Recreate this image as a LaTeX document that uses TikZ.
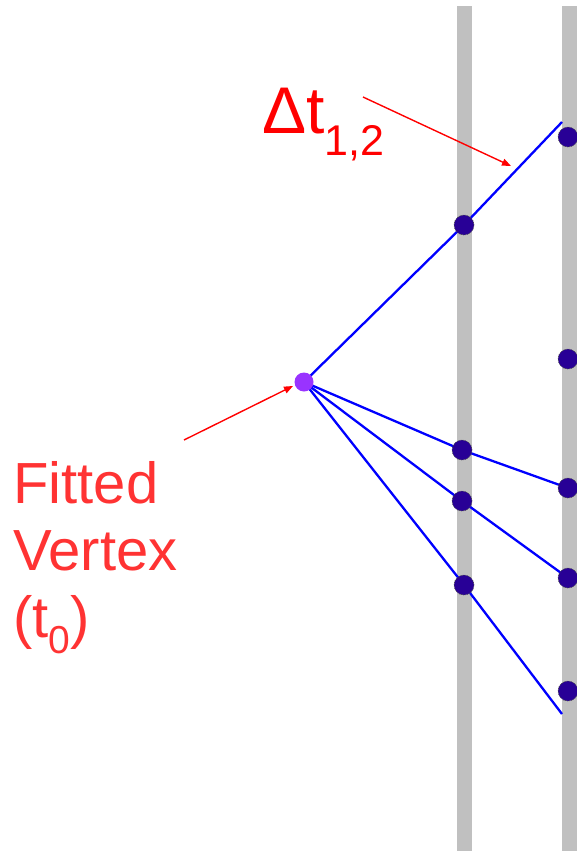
\documentclass[tikz,border=0pt]{standalone}
\usepackage{fontspec}
\setmainfont{Liberation Sans}
\usetikzlibrary{arrows.meta,backgrounds}
\definecolor{bargray}{RGB}{192,192,192}
\definecolor{hitblue}{RGB}{40,0,150}
\definecolor{vtxpurple}{RGB}{153,51,255}
\definecolor{lblred}{RGB}{255,51,51}
\tikzset{
  bar/.style={fill=bargray,draw=none},
  hit/.style={circle,fill=hitblue,draw=black!70,dashed,line width=0.6pt,dash pattern=on 1pt off 1pt,minimum size=20pt,inner sep=0pt},
  vtx/.style={circle,fill=vtxpurple,draw=none,minimum size=19pt,inner sep=0pt},
  track/.style={draw={rgb,255:red,0;green,0;blue,255},line width=2.3pt},
  pointer/.style={draw=red,line width=1.4pt,-{Triangle[length=9pt,width=7pt]}},
}
\begin{document}
\begin{tikzpicture}[x=1pt,y=-1pt]
\useasboundingbox (0,0) rectangle (576,851);
% hits and vertex
\node[vtx] (v) at (304,382) {};
\node[hit] (a1) at (464,225) {};
\node[hit] (a2) at (462,450) {};
\node[hit] (a3) at (462,501) {};
\node[hit] (a4) at (464,585) {};
\node[hit] (b1) at (568,137) {};
\node[hit] (b2) at (568,359) {};
\node[hit] (b3) at (568,488) {};
\node[hit] (b4) at (568,578) {};
\node[hit] (b5) at (568,691) {};
\coordinate (e1) at (562,122);
\coordinate (e4) at (562,714);
\begin{scope}[on background layer]
  \fill[bar] (457,6) rectangle (472,851);
  \fill[bar] (562,6) rectangle (580,851);
  \draw[track] (v.center) -- (a1.center) -- (e1);
  \draw[track] (v.center) -- (a2.center) -- (b3.center);
  \draw[track] (v.center) -- (a3.center) -- (b4.center);
  \draw[track] (v.center) -- (a4.center) -- (e4);
\end{scope}
% labels
\node[anchor=base west,inner sep=0pt,text=red,font=\fontsize{66}{66}\selectfont] (dt) at (262,133) {Δt\raisebox{-22pt}{\fontsize{43}{43}\selectfont 1,2}};
\node[anchor=base west,inner sep=0pt,text=lblred,align=left,font=\fontsize{58}{67}\selectfont] (fv) at (13,637) {Fitted\\Vertex\\(t\raisebox{-16pt}{\fontsize{39}{39}\selectfont 0})};
\coordinate (dts) at (363,97);
\coordinate (dte) at (511,166);
\coordinate (fvs) at (184,440);
\coordinate (fve) at (293,386);
\draw[pointer] (dts) -- (dte);
\draw[pointer] (fvs) -- (fve);
\end{tikzpicture}
\end{document}
